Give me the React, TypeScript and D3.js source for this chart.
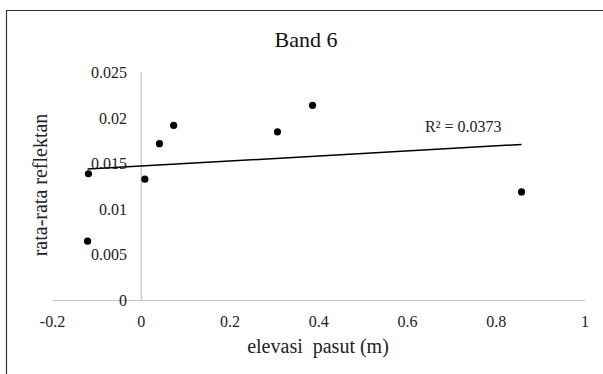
import React from 'react';
import * as d3 from 'd3';

// elevasi pasut (m) vs rata-rata reflektan, Band 6
const elevasi = [-0.119, -0.121, 0.008, 0.041, 0.073, 0.307, 0.386, 0.857];
const reflektan = [0.0139, 0.0065, 0.0133, 0.0172, 0.0192, 0.0185, 0.0214, 0.0119];

const xTicks = [-0.2, 0, 0.2, 0.4, 0.6, 0.8, 1];
const xTickLabels = ['-0.2', '0', '0.2', '0.4', '0.6', '0.8', '1'];
const yTicks = [0, 0.005, 0.01, 0.015, 0.02, 0.025];
const yTickLabels = ['0', '0.005', '0.01', '0.015', '0.02', '0.025'];

const W = 603;
const H = 374;
const FONT = "'Times New Roman', Tinos, 'Liberation Serif', 'Nimbus Roman', 'Noto Serif', FreeSerif, 'DejaVu Serif', Times, serif";

export default function App() {
  const x = d3.scaleLinear().domain([-0.2, 1]).range([52.5, 585]);
  const y = d3.scaleLinear().domain([0, 0.025]).range([300.5, 72.5]);

  // linear least-squares trendline
  const mx = d3.mean(elevasi) as number;
  const my = d3.mean(reflektan) as number;
  let sxy = 0;
  let sxx = 0;
  elevasi.forEach((v, i) => {
    sxy += (v - mx) * (reflektan[i] - my);
    sxx += (v - mx) * (v - mx);
  });
  const slope = sxy / sxx;
  const icpt = my - slope * mx;
  const [x0, x1] = d3.extent(elevasi) as [number, number];
  const trend = d3
    .line<number>()
    .x((d) => x(d))
    .y((d) => y(icpt + slope * d))([x0, x1]);

  const txt = { fontFamily: FONT };

  return (
    <svg width={W} height={H} style={{ position: 'absolute', left: 0, top: 0, background: '#fff', fontFamily: FONT }}>
      <rect x={0} y={0} width={W} height={H} fill="#fff" />
      {/* chart frame, open to the right and bottom */}
      <path d={`M6.5,${H + 2}V10.5H${W + 2}`} fill="none" stroke="#333" strokeWidth={1.2} />

      <text x={306} y={47} textAnchor="middle" fontSize={22} fill="#111" style={txt}>Band 6</text>

      {/* axes */}
      <line x1={x(-0.2)} x2={x(1)} y1={y(0)} y2={y(0)} stroke="#c4c4c4" strokeWidth={1.2} />
      <line x1={x(0)} x2={x(0)} y1={y(0.025)} y2={y(0)} stroke="#c4c4c4" strokeWidth={1.2} />

      {yTicks.map((t, i) => (
        <text key={`y${i}`} x={127} y={y(t)} dy="0.34em" textAnchor="end" fontSize={16} fill="#222" style={txt}>
          {yTickLabels[i]}
        </text>
      ))}
      {xTicks.map((t, i) => (
        <text key={`x${i}`} x={x(t)} y={327} textAnchor="middle" fontSize={16} fill="#222" style={txt}>
          {xTickLabels[i]}
        </text>
      ))}

      {trend && <path d={trend} fill="none" stroke="#000" strokeWidth={1.5} />}

      {elevasi.map((v, i) => (
        <circle key={`p${i}`} cx={x(v)} cy={y(reflektan[i])} r={3.6} fill="#000" />
      ))}

      <text x={425} y={131.5} fontSize={16} fill="#222" style={txt}>R² = 0.0373</text>

      <text x={318} y={353} textAnchor="middle" fontSize={20} fill="#222" style={{ ...txt, whiteSpace: 'pre' }}>
        elevasi  pasut (m)
      </text>
      <text transform="translate(46.5,185) rotate(-90)" textAnchor="middle" fontSize={20} fill="#222" style={txt}>
        rata-rata reflektan
      </text>
    </svg>
  );
}
